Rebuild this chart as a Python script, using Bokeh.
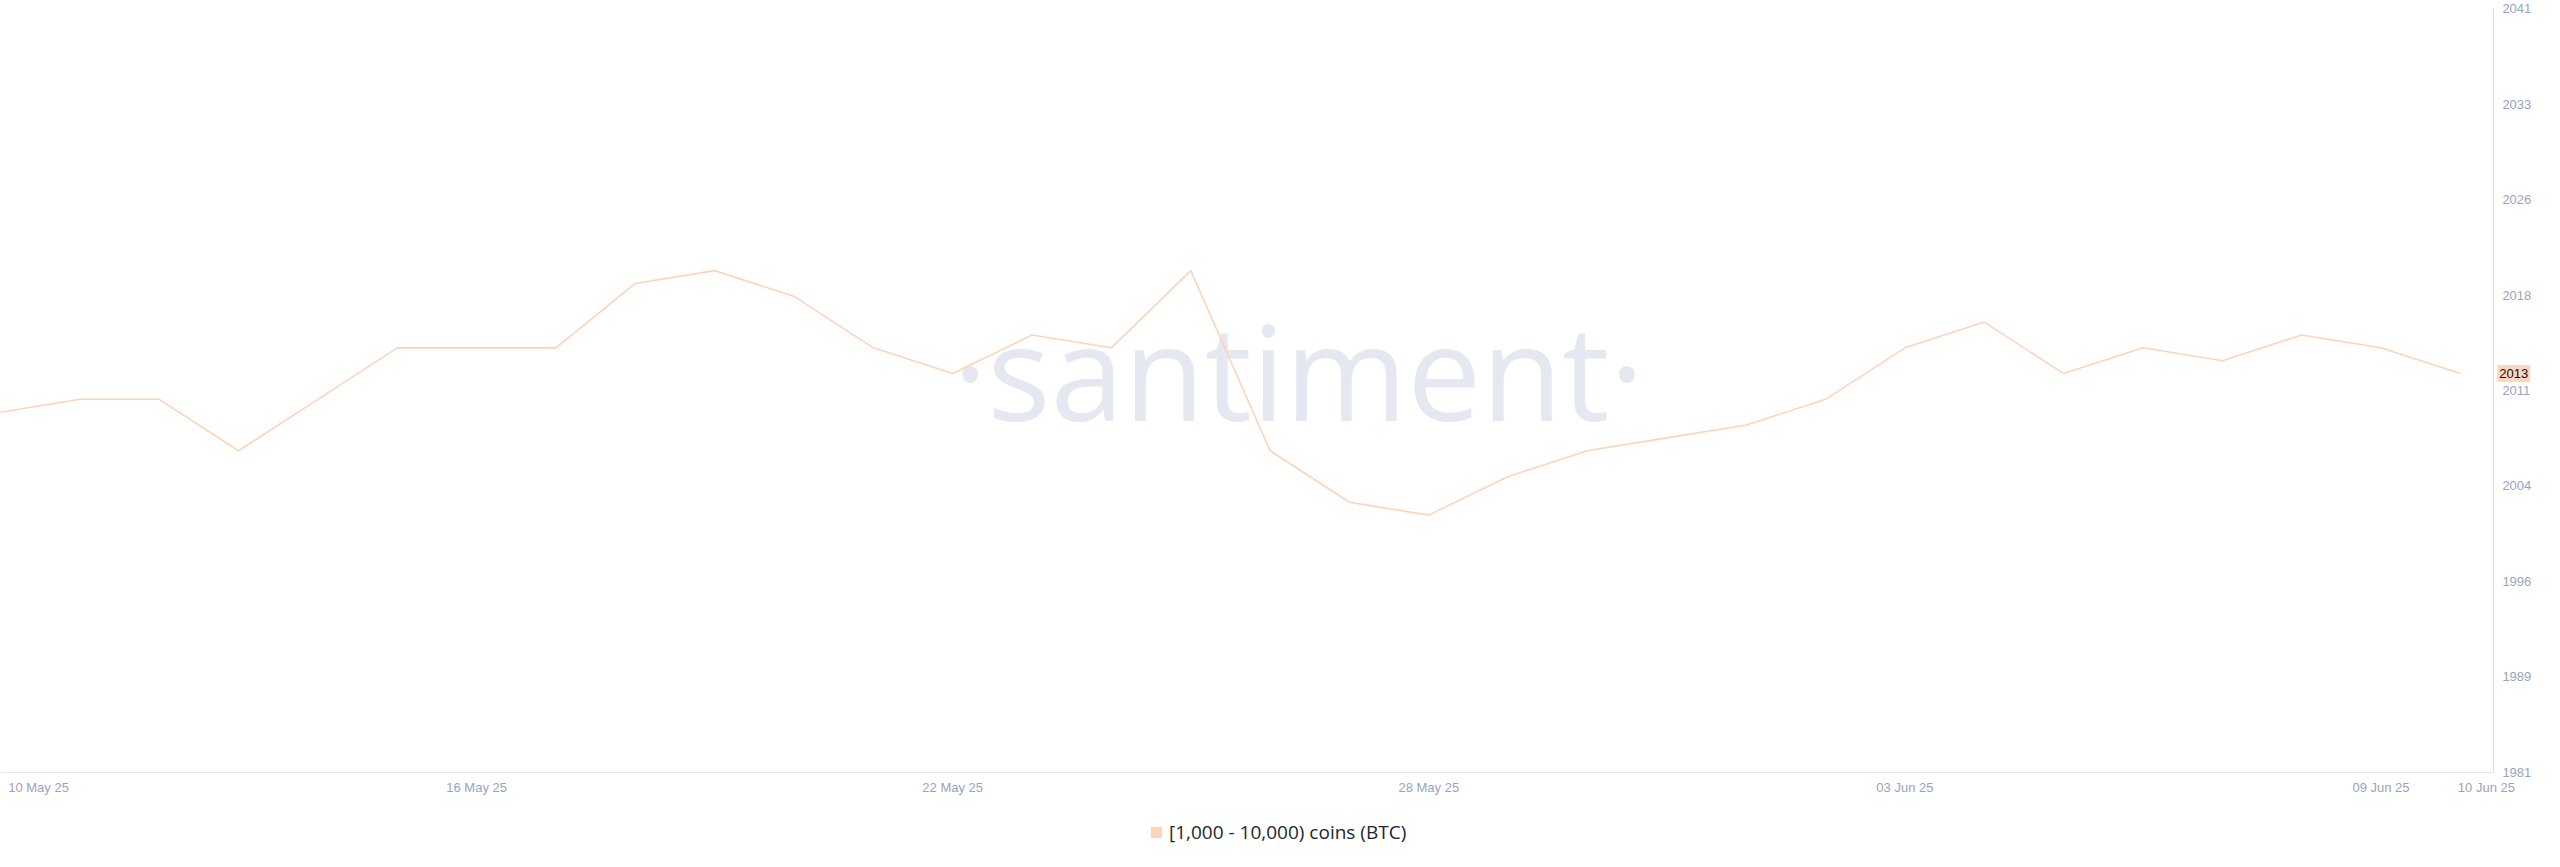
import numpy as np
import pandas as pd
from bokeh.plotting import figure
from bokeh.models import (FixedTicker, DatetimeTickFormatter, Legend, LegendItem,
                          Label, Range1d, ColumnDataSource)
from bokeh.embed import file_html
from bokeh.resources import INLINE

# ---- data ----
dates = pd.date_range("2025-05-10", "2025-06-10", freq="D")
holders = [2010, 2011, 2011, 2007, 2011, 2015, 2015, 2015, 2020, 2021, 2019,
           2015, 2013, 2016, 2015, 2021, 2007, 2003, 2002, 2005, 2007, 2008,
           2009, 2011, 2015, 2017, 2013, 2015, 2014, 2016, 2015, 2013]
series_label = "[1,000 - 10,000) coins (BTC)"
y_tick_labels = ["1981", "1989", "1996", "2004", "2011", "2018", "2026", "2033", "2041"]
x_tick_dates = ["2025-05-10", "2025-05-16", "2025-05-22", "2025-05-28",
                "2025-06-03", "2025-06-09", "2025-06-10"]

# ---- styles ----
SERIES = "#fcd4ba"
TICK_TXT = "#9aa3bd"
AXIS_GREY = "#e4e7ee"
WM = "#e5e8f1"
DAY = 86400000.0

def ms(d):
    return pd.Timestamp(d).value / 1e6

W, H = 2552, 859
# layout: the frame fills the whole figure; axes are pinned inside it
x_start = ms(dates[0])
x_end = ms(dates[0]) + 32.161 * DAY
x_axis_right = ms(dates[-1]) + 0.416 * DAY      # where the value axis sits
y_axis_low, y_axis_top = 1982.0, 2041.36        # value axis extent
y_min, y_max = 1975.24, 2041.99                 # frame extent (incl. legend area)

p = figure(width=W, height=H, x_axis_type="datetime", y_axis_location="right",
           x_range=Range1d(x_start, x_end), y_range=Range1d(y_min, y_max),
           output_backend="svg", toolbar_location=None,
           min_border_left=0, min_border_top=0, min_border_right=0, min_border_bottom=0)
p.outline_line_color = None
p.grid.visible = False
p.background_fill_color = "white"
p.border_fill_color = "white"

src = ColumnDataSource(dict(date=dates, holders=holders))

# watermark
wm = Label(x=x_start + 0.5086 * (x_end - x_start), y=y_min + 0.5704 * (y_max - y_min),
           text="·santiment·", text_align="center", text_baseline="alphabetic",
           text_font="Open Sans", text_font_size="132px",
           text_color=WM, level="underlay")
p.add_layout(wm)

p.line(x="date", y="holders", source=src, line_color=SERIES, line_width=1.6)

# legend swatch renderer: zero-size quads (invisible in the plot)
sw = p.quad(left="date", right="date", top="holders", bottom="holders", source=src,
            fill_color=SERIES, line_color=None)

# y axis (right)
step = (y_axis_top - y_axis_low) / 8
yt = [round(y_axis_low + 0.02 + i * (step - 0.005), 4) for i in range(9)]
ya = p.yaxis[0]
ya.fixed_location = x_axis_right
ya.bounds = (y_axis_low, y_axis_top)
ya.ticker = FixedTicker(ticks=yt)
ya.major_label_overrides = {t: l for t, l in zip(yt, y_tick_labels)}
ya.axis_line_color = SERIES
ya.axis_line_width = 1
ya.major_tick_line_color = None
ya.minor_tick_line_color = None
ya.major_tick_out = 0
ya.major_tick_in = 0
ya.major_label_text_color = TICK_TXT
ya.major_label_text_font = "Liberation Sans"
ya.major_label_text_font_size = "13px"
ya.major_label_standoff = 9

# x axis
xt = [ms(d) for d in x_tick_dates]
xt[0] += 0.479 * DAY
xt[-1] += 0.328 * DAY
xa = p.xaxis[0]
xa.fixed_location = y_axis_low
xa.bounds = (x_start, x_axis_right)
xa.ticker = FixedTicker(ticks=xt)
fmt = "%d %b %y"
xa.formatter = DatetimeTickFormatter(days=fmt, months=fmt, years=fmt, hours=fmt,
                                     hourmin=fmt, minutes=fmt, minsec=fmt, seconds=fmt,
                                     milliseconds=fmt, microseconds=fmt,
                                     strip_leading_zeros=False)
xa.axis_line_color = AXIS_GREY
xa.major_tick_line_color = None
xa.minor_tick_line_color = None
xa.major_tick_out = 0
xa.major_tick_in = 0
xa.major_label_text_color = TICK_TXT
xa.major_label_text_font = "Liberation Sans"
xa.major_label_text_font_size = "13px"
xa.major_label_standoff = 7

# last value badge
badge = Label(x=ms(dates[-1]) + 0.466 * DAY, y=holders[-1], text=str(holders[-1]),
              text_align="left", text_baseline="middle",
              text_font="Liberation Sans", text_font_size="13px",
              text_color="#111111", background_fill_color="#fcd6c0", padding=(2, 4),
              level="overlay")
p.add_layout(badge)

legend = Legend(items=[LegendItem(label=series_label, renderers=[sw])],
                location=(1149, 14), orientation="horizontal",
                border_line_color=None, background_fill_alpha=0,
                glyph_width=14, glyph_height=14, label_standoff=6,
                label_text_font="Open Sans", label_text_font_size="19px",
                label_text_color="#23262f", padding=5, margin=0)
p.add_layout(legend)

open("out.html", "w").write(file_html(p, INLINE))
